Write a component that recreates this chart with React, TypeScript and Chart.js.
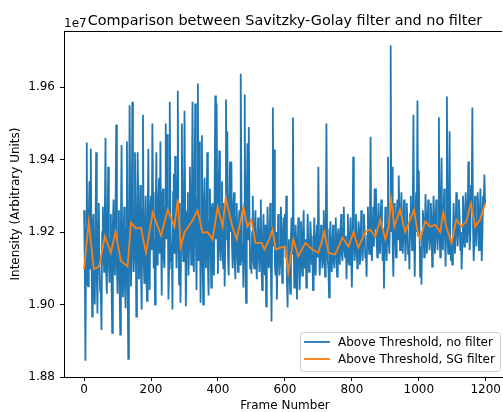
import React, { useEffect, useRef } from 'react';
import { Chart, registerables } from 'chart.js';

Chart.register(...registerables);

// Intensity values in units of 1e7, samples at frames 0, 4, 8, ... 1196
const noFilterValues: number[] = [
  1.926, 1.8845, 1.9447, 1.905, 1.934, 1.943, 1.8967, 1.925, 1.900, 1.942, 1.8975, 1.928, 1.904, 1.893, 1.927, 1.909, 1.946, 1.903, 1.938, 1.906, 1.925, 1.8922, 1.929, 1.908, 1.9497,
  1.903, 1.926, 1.8917, 1.944, 1.902, 1.927, 1.899, 1.945, 1.885, 1.955, 1.905, 1.956, 1.909, 1.942, 1.8967, 1.942, 1.907, 1.933, 1.8986, 1.9524, 1.906, 1.930, 1.901, 1.943, 1.904,
  1.930, 1.950, 1.910, 1.900, 1.942, 1.912, 1.935, 1.945, 1.9025, 1.932, 1.910, 1.950, 1.947, 1.9014, 1.956, 1.912, 1.8986, 1.936, 1.941, 1.910, 1.959, 1.9055, 1.9005, 1.950, 1.912,
  1.9535, 1.8995, 1.925, 1.908, 1.938, 1.911, 1.956, 1.909, 1.9555, 1.904, 1.961, 1.945, 1.9005, 1.9467, 1.900, 1.935, 1.910, 1.942, 1.9025, 1.932, 1.9047, 1.928, 1.908, 1.9577, 1.9555,
  1.9085, 1.9425, 1.912, 1.934, 1.910, 1.905, 1.9566, 1.9478, 1.908, 1.9395, 1.9395, 1.910, 1.931, 1.907, 1.928, 1.909, 1.926, 1.9637, 1.912, 1.9047, 1.958, 1.9005, 1.9445, 1.949, 1.910,
  1.9085, 1.930, 1.910, 1.926, 1.907, 1.924, 1.909, 1.929, 1.904, 1.925, 1.908, 1.8995, 1.927, 1.910, 1.928, 1.8953, 1.9544, 1.9428, 1.908, 1.9014, 1.925, 1.908, 1.927, 1.906, 1.924,
  1.925, 1.930, 1.8992, 1.918, 1.903, 1.924, 1.9516, 1.9047, 1.922, 1.9014, 1.924, 1.904, 1.923, 1.908, 1.926, 1.910, 1.9047, 1.925, 1.909, 1.923, 1.911, 1.904, 1.924, 1.908, 1.922,
  1.938, 1.908, 1.922, 1.910, 1.926, 1.9077, 1.950, 1.912, 1.902, 1.923, 1.909, 1.922, 1.910, 1.924, 1.9077, 1.921, 1.911, 1.925, 1.912, 1.927, 1.913, 1.907, 1.925, 1.911, 1.924,
  1.9047, 1.9408, 1.912, 1.925, 1.910, 1.923, 1.911, 1.926, 1.912, 1.925, 1.913, 1.9077, 1.927, 1.914, 1.9463, 1.912, 1.927, 1.932, 1.932, 1.913, 1.928, 1.914, 1.929, 1.912, 1.9044,
  1.927, 1.912, 1.9408, 1.914, 1.9715, 1.938, 1.9077, 1.928, 1.913, 1.929, 1.9356, 1.915, 1.931, 1.914, 1.929, 1.912, 1.928, 1.914, 1.9097, 1.930, 1.915, 1.9524, 1.9077, 1.931, 1.9563,
  1.937, 1.9077, 1.9055, 1.926, 1.913, 1.9305, 1.914, 1.929, 1.915, 1.928, 1.9105, 1.930, 1.914, 1.929, 1.915, 1.9517, 1.913, 1.9405, 1.915, 1.932, 1.9105, 1.9574, 1.914, 1.9478, 1.912,
  1.911, 1.928, 1.914, 1.931, 1.916, 1.929, 1.915, 1.9097, 1.930, 1.916, 1.931, 1.917, 1.9395, 1.915, 1.933, 1.9544, 1.912, 1.930, 1.916, 1.931, 1.915, 1.932, 1.912, 1.930, 1.9359,
];
// Intensity values in units of 1e7, samples at frames 2, 6, 10, ... 1198
const noFilterMidValues: number[] = [
  1.912, 1.921, 1.906, 1.924, 1.910, 1.917, 1.922, 1.905, 1.919, 1.908, 1.923, 1.911, 1.903, 1.920, 1.915, 1.925, 1.909, 1.921, 1.912, 1.918, 1.906, 1.922, 1.913, 1.926, 1.910,
  1.917, 1.907, 1.922, 1.911, 1.919, 1.905, 1.921, 1.908, 1.915, 1.927, 1.912, 1.930, 1.914, 1.924, 1.910, 1.928, 1.916, 1.909, 1.926, 1.913, 1.920, 1.908, 1.924, 1.915, 1.927,
  1.915, 1.931, 1.918, 1.926, 1.911, 1.929, 1.914, 1.920, 1.930, 1.913, 1.927, 1.918, 1.932, 1.910, 1.924, 1.917, 1.931, 1.914, 1.926, 1.935, 1.915, 1.928, 1.918, 1.926, 1.913,
  1.926, 1.913, 1.931, 1.917, 1.924, 1.928, 1.914, 1.933, 1.918, 1.929, 1.912, 1.926, 1.920, 1.914, 1.928, 1.916, 1.925, 1.911, 1.923, 1.917, 1.927, 1.913, 1.930, 1.918, 1.926,
  1.930, 1.915, 1.926, 1.914, 1.928, 1.918, 1.931, 1.913, 1.925, 1.920, 1.916, 1.927, 1.912, 1.924, 1.914, 1.922, 1.911, 1.930, 1.917, 1.925, 1.912, 1.929, 1.918, 1.926, 1.915,
  1.920, 1.912, 1.922, 1.913, 1.918, 1.914, 1.921, 1.911, 1.917, 1.913, 1.922, 1.910, 1.919, 1.914, 1.912, 1.921, 1.916, 1.911, 1.920, 1.913, 1.918, 1.912, 1.920, 1.913, 1.916,
  1.913, 1.907, 1.912, 1.909, 1.919, 1.914, 1.920, 1.911, 1.917, 1.912, 1.918, 1.910, 1.916, 1.919, 1.912, 1.918, 1.913, 1.917, 1.911, 1.919, 1.914, 1.917, 1.912, 1.918, 1.913,
  1.917, 1.913, 1.918, 1.912, 1.919, 1.915, 1.921, 1.910, 1.918, 1.913, 1.917, 1.912, 1.918, 1.914, 1.919, 1.913, 1.920, 1.914, 1.921, 1.915, 1.919, 1.916, 1.912, 1.919, 1.914,
  1.916, 1.921, 1.915, 1.918, 1.914, 1.920, 1.915, 1.919, 1.917, 1.921, 1.915, 1.919, 1.916, 1.922, 1.917, 1.920, 1.916, 1.921, 1.918, 1.922, 1.917, 1.924, 1.918, 1.921, 1.916,
  1.919, 1.922, 1.918, 1.925, 1.920, 1.916, 1.923, 1.919, 1.924, 1.918, 1.926, 1.920, 1.923, 1.919, 1.924, 1.918, 1.922, 1.917, 1.925, 1.920, 1.926, 1.918, 1.923, 1.920, 1.919,
  1.922, 1.916, 1.919, 1.923, 1.918, 1.924, 1.919, 1.923, 1.918, 1.922, 1.920, 1.924, 1.919, 1.923, 1.920, 1.922, 1.926, 1.919, 1.925, 1.920, 1.923, 1.919, 1.924, 1.918, 1.917,
  1.918, 1.922, 1.919, 1.925, 1.921, 1.924, 1.920, 1.917, 1.925, 1.920, 1.926, 1.921, 1.924, 1.920, 1.928, 1.922, 1.918, 1.924, 1.921, 1.926, 1.920, 1.925, 1.919, 1.927, 1.928,
];

// Savitzky-Golay filtered series (units of 1e7), read at these frames
const sgFrames: number[] = [
  0, 14, 29, 45, 62, 80, 94, 110, 130, 140, 155, 170, 185, 205, 230, 250, 270, 280, 289, 300,
  325, 339, 354, 369, 384, 399, 414, 423, 443, 456, 476, 488, 500, 512, 530, 539, 553, 563, 572, 587,
  601, 610, 625, 640, 661, 682, 700, 718, 730, 750, 772, 790, 805, 819, 840, 855, 870, 885, 900, 910,
  917, 927, 944, 959, 974, 986, 995, 1004, 1019, 1034, 1049, 1064, 1073, 1083, 1098, 1112, 1127, 1142, 1156, 1168,
  1183, 1199,
];
const sgValues: number[] = [
  1.9097, 1.9229, 1.9097, 1.9105, 1.9188, 1.9143, 1.920, 1.912, 1.9105, 1.9226, 1.921, 1.9212, 1.9143, 1.9254, 1.919, 1.9262, 1.9215, 1.929, 1.916, 1.9199,
  1.9234, 1.926, 1.9199, 1.920, 1.918, 1.927, 1.9215, 1.9295, 1.9215, 1.918, 1.927, 1.9215, 1.9234, 1.917, 1.917, 1.9152, 1.918, 1.9207, 1.9152, 1.9157,
  1.916, 1.9088, 1.918, 1.9133, 1.917, 1.9152, 1.9143, 1.920, 1.9143, 1.9138, 1.9185, 1.916, 1.920, 1.9157, 1.920, 1.9207, 1.9188, 1.9234, 1.918, 1.9215,
  1.929, 1.9215, 1.9262, 1.920, 1.9234, 1.9262, 1.9207, 1.918, 1.9229, 1.9215, 1.922, 1.920, 1.9254, 1.9212, 1.917, 1.9234, 1.9215, 1.9229, 1.928, 1.9215,
  1.9234, 1.928,
];

const xTickValues: number[] = [0, 200, 400, 600, 800, 1000, 1200];
const yTickValues: number[] = [1.88, 1.90, 1.92, 1.94, 1.96];

const titleText = 'Comparison between Savitzky-Golay filter and no filter';
const xTitle = 'Frame Number';
const yTitle = 'Intensity (Arbitrary Units)';
const offsetText = '1e7';
const seriesLabels = ['Above Threshold, no filter', 'Above Threshold, SG filter'];
const BLUE = '#1f77b4';
const ORANGE = '#ff7f0e';
const FONT = '"DejaVu Sans", sans-serif';

const noFilterPoints: { x: number; y: number }[] = [];
noFilterValues.forEach((v, i) => {
  noFilterPoints.push({ x: i * 4, y: v });
  noFilterPoints.push({ x: i * 4 + 2, y: noFilterMidValues[i] });
});

const decorPlugin = {
  id: 'decor',
  afterDraw(chart: any) {
    const ctx = chart.ctx as CanvasRenderingContext2D;
    const a = chart.chartArea;
    ctx.save();
    // top spine
    ctx.strokeStyle = '#000';
    ctx.lineWidth = 1;
    ctx.beginPath();
    ctx.moveTo(a.left, a.top + 0.5);
    ctx.lineTo(a.right, a.top + 0.5);
    ctx.stroke();

    ctx.fillStyle = '#000';
    ctx.font = `14.4px ${FONT}`;
    ctx.textAlign = 'center';
    ctx.textBaseline = 'alphabetic';
    ctx.fillText(titleText, 285, 25);
    ctx.font = `12px ${FONT}`;
    ctx.textAlign = 'left';
    ctx.fillText(offsetText, a.left, 27);
    ctx.textAlign = 'center';
    ctx.textBaseline = 'middle';
    ctx.fillText(xTitle, 285, 406);
    ctx.save();
    ctx.translate(16, (a.top + a.bottom) / 2);
    ctx.rotate(-Math.PI / 2);
    ctx.fillText(yTitle, 0, 0);
    ctx.restore();

    // legend
    const lx = 300.5, ly = 332.5, lw = 200, lh = 39, r = 3;
    ctx.beginPath();
    ctx.moveTo(lx + r, ly);
    ctx.lineTo(lx + lw - r, ly);
    ctx.quadraticCurveTo(lx + lw, ly, lx + lw, ly + r);
    ctx.lineTo(lx + lw, ly + lh - r);
    ctx.quadraticCurveTo(lx + lw, ly + lh, lx + lw - r, ly + lh);
    ctx.lineTo(lx + r, ly + lh);
    ctx.quadraticCurveTo(lx, ly + lh, lx, ly + lh - r);
    ctx.lineTo(lx, ly + r);
    ctx.quadraticCurveTo(lx, ly, lx + r, ly);
    ctx.closePath();
    ctx.fillStyle = 'rgba(255,255,255,0.8)';
    ctx.fill();
    ctx.strokeStyle = '#cccccc';
    ctx.lineWidth = 1;
    ctx.stroke();
    const rows = [342, 359];
    const cols = [BLUE, ORANGE];
    rows.forEach((y, i) => {
      ctx.strokeStyle = cols[i];
      ctx.lineWidth = 1.8;
      ctx.beginPath();
      ctx.moveTo(304, y);
      ctx.lineTo(330, y);
      ctx.stroke();
      ctx.fillStyle = '#000';
      ctx.font = `12px ${FONT}`;
      ctx.textAlign = 'left';
      ctx.textBaseline = 'middle';
      ctx.fillText(seriesLabels[i], 338, y + 0.5);
    });
    ctx.restore();
  },
};

export default function App() {
  const ref = useRef<HTMLCanvasElement | null>(null);
  useEffect(() => {
    if (!ref.current) return;
    const chart = new Chart(ref.current, {
      type: 'line',
      data: {
        datasets: [
          {
            label: seriesLabels[1],
            data: sgFrames.map((x, i) => ({ x, y: sgValues[i] })),
            borderColor: ORANGE,
            borderWidth: 1.8,
            pointRadius: 0,
            tension: 0,
            fill: false,
            order: 0,
          },
          {
            label: seriesLabels[0],
            data: noFilterPoints,
            borderColor: BLUE,
            borderWidth: 1.8,
            pointRadius: 0,
            tension: 0,
            fill: false,
            order: 1,
          },
        ],
      },
      options: {
        animation: false,
        responsive: false,
        devicePixelRatio: 1,
        layout: { padding: { top: 31, left: 0, right: 0, bottom: 0 } },
        plugins: { legend: { display: false }, tooltip: { enabled: false }, title: { display: false } },
        scales: {
          x: {
            type: 'linear',
            min: -60,
            max: 1249,
            afterBuildTicks: (s: any) => { s.ticks = xTickValues.map((v) => ({ value: v })); },
            afterFit: (s: any) => { s.height = 35; },
            grid: { display: true, drawOnChartArea: false, drawTicks: true, tickLength: 4, color: '#000' },
            border: { display: true, color: '#000', width: 1 },
            ticks: {
              color: '#000',
              font: { family: FONT, size: 12 },
              padding: 2,
              maxRotation: 0,
              autoSkip: false,
              callback: (v: any) => String(v),
            },
          },
          y: {
            type: 'linear',
            min: 1.88,
            max: 1.9755,
            afterBuildTicks: (s: any) => { s.ticks = yTickValues.map((v) => ({ value: v })); },
            afterFit: (s: any) => { s.width = 64; },
            grid: { display: true, drawOnChartArea: false, drawTicks: true, tickLength: 4, color: '#000' },
            border: { display: true, color: '#000', width: 1 },
            ticks: {
              color: '#000',
              font: { family: FONT, size: 12 },
              padding: 5,
              autoSkip: false,
              callback: (v: any) => Number(v).toFixed(2),
            },
          },
        },
      },
      plugins: [decorPlugin],
    });
    return () => chart.destroy();
  }, []);
  return (
    <div style={{ position: 'fixed', left: 0, top: 0, width: 503, height: 412, overflow: 'hidden', background: '#fff' }}>
      <canvas ref={ref} width={503} height={412} style={{ width: 503, height: 412, display: 'block' }} />
    </div>
  );
}
